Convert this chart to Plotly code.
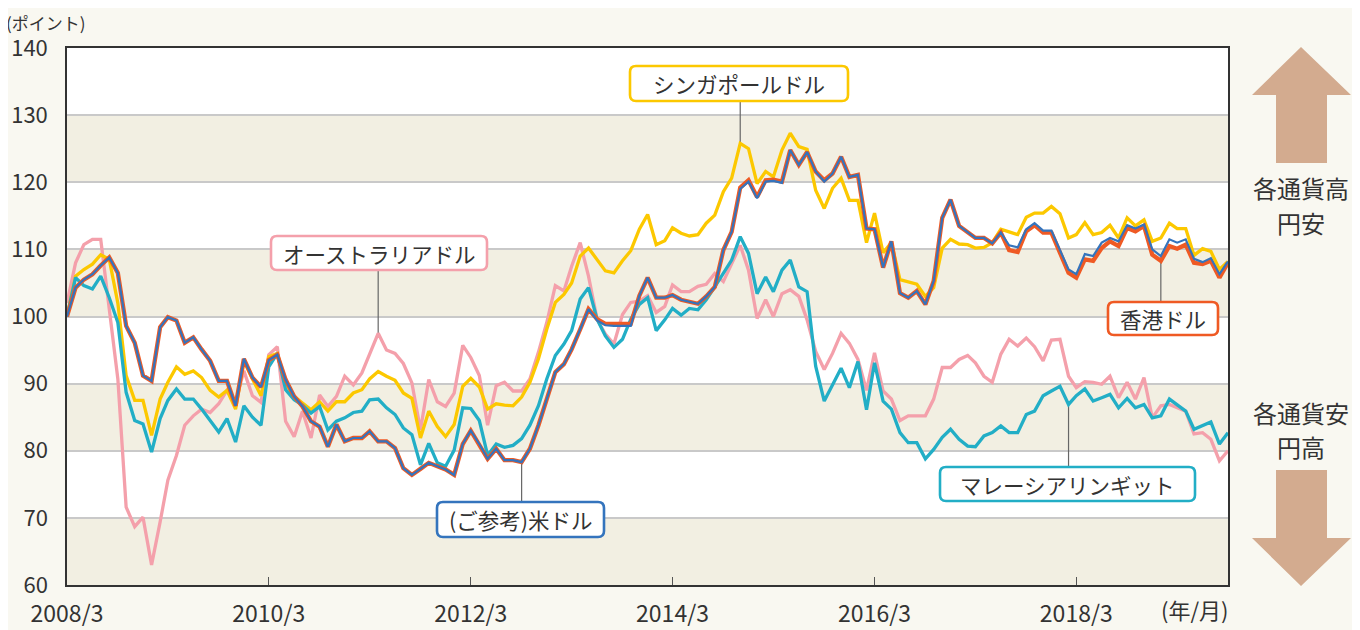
import plotly.graph_objects as go
import pandas as pd

# ---------------- data (monthly, index points) ----------------
months = pd.date_range("2008-03-01", periods=139, freq="MS")

hkd = [100, 104.3, 105.5, 106.3, 107.6, 108.8, 106.5, 98.6, 96.1, 91.2,
       90.4, 98.4, 99.9, 99.4, 96.1, 96.9, 95.1, 93.4, 90.4, 90.4,
       86.7, 93.7, 90.9, 89.5, 93.5, 94.3, 90.6, 88.1, 86.6, 84.4,
       83.6, 80.6, 83.9, 81.4, 81.9, 81.9, 82.9, 81.4, 81.4, 80.4,
       77.4, 76.4, 77.3, 78.2, 77.7, 77.2, 76.4, 81.0, 83.0, 81.0,
       78.8, 80.3, 78.6, 78.6, 78.3, 80.3, 83.8, 87.7, 91.7, 92.9,
       95.1, 98.1, 101.1, 99.6, 98.9, 98.9, 98.9, 98.9, 103.1, 105.8,
       102.8, 102.8, 103.2, 102.5, 102.2, 101.9, 103.0, 104.4, 109.9, 112.6,
       119.2, 120.3, 117.8, 120.3, 120.4, 120.1, 124.8, 122.6, 124.5, 121.6,
       120.3, 121.3, 123.8, 120.8, 121.1, 113.1, 113.0, 107.3, 111.2, 103.5,
       102.8, 103.8, 101.8, 105.3, 114.7, 117.4, 113.5, 112.5, 111.7, 111.7,
       110.9, 112.5, 109.9, 109.6, 112.7, 113.6, 112.5, 112.5, 109.5, 106.5,
       105.8, 108.5, 108.3, 110.2, 111.2, 110.5, 113.2, 112.7, 113.5, 109.2,
       108.3, 110.5, 110.1, 110.7, 108.0, 107.8, 108.3, 105.8, 108.0]

usd = [100, 104.3, 105.5, 106.3, 107.6, 108.8, 106.5, 98.6, 96.1, 91.2,
       90.4, 98.4, 99.9, 99.4, 96.1, 96.9, 95.1, 93.4, 90.4, 90.4,
       86.7, 93.7, 90.9, 89.5, 93.5, 94.3, 90.6, 88.1, 86.6, 84.4,
       83.6, 80.6, 83.9, 81.4, 81.9, 81.9, 82.9, 81.4, 81.4, 80.4,
       77.4, 76.4, 77.3, 78.2, 77.7, 77.2, 76.4, 81.0, 83.0, 81.0,
       78.8, 80.3, 78.6, 78.6, 78.3, 80.3, 83.8, 87.7, 91.7, 92.9,
       95.1, 98.1, 101.1, 99.4, 98.7, 98.6, 98.6, 98.6, 103.1, 105.8,
       102.8, 102.8, 103.2, 102.5, 102.2, 101.9, 103.0, 104.4, 109.9, 112.6,
       119.0, 120.1, 117.6, 120.1, 120.2, 119.9, 124.8, 122.6, 124.5, 121.6,
       120.1, 121.3, 123.8, 120.8, 121.1, 113.1, 113.0, 107.3, 111.2, 103.5,
       102.8, 103.8, 101.8, 105.3, 114.7, 117.4, 113.5, 112.5, 111.7, 111.7,
       110.9, 112.5, 110.6, 110.3, 113.0, 113.9, 112.8, 112.8, 110.0, 107.0,
       106.3, 109.3, 109.0, 111.0, 111.7, 111.2, 113.6, 113.1, 113.7, 110.0,
       109.0, 111.5, 111.0, 111.5, 108.6, 108.1, 108.7, 106.3, 108.2]

sgd = [100, 106.0, 107.0, 107.8, 109.2, 108.5, 102.0, 91.2, 87.5, 87.5,
       82.3, 87.7, 90.2, 92.5, 91.4, 91.9, 90.9, 89.0, 88.0, 89.0,
       86.2, 93.4, 90.7, 88.2, 94.0, 94.5, 90.0, 88.1, 87.1, 86.1,
       87.3, 85.9, 87.3, 87.3, 88.6, 89.1, 90.7, 91.8, 91.1, 90.5,
       88.6, 87.8, 81.9, 85.9, 83.6, 82.1, 83.9, 89.6, 90.8, 89.5,
       86.2, 87.0, 86.8, 86.7, 88.0, 90.2, 93.7, 98.1, 102.1, 103.3,
       105.0, 109.0, 110.2, 108.5, 106.8, 106.5, 108.3, 109.8, 113.0, 115.2,
       110.7, 111.3, 113.2, 112.4, 112.0, 112.2, 113.9, 115.1, 118.6, 120.6,
       125.8, 125.0, 119.8, 121.6, 120.8, 124.8, 127.3, 125.3, 124.9, 118.8,
       116.1, 119.1, 120.6, 117.3, 117.3, 111.0, 115.4, 109.5, 111.0, 105.5,
       105.2, 104.8, 103.0, 104.3, 110.2, 111.5, 110.8, 110.7, 110.2, 110.3,
       111.0, 113.0, 112.6, 112.2, 114.8, 115.4, 115.4, 116.4, 115.3, 111.7,
       112.2, 114.0, 112.2, 112.5, 113.6, 111.7, 114.7, 113.5, 114.4, 111.2,
       111.7, 113.9, 113.1, 113.1, 109.1, 110.1, 109.7, 107.0, 108.2]

myr = [100, 105.8, 104.6, 104.1, 106.0, 102.8, 99.1, 88.7, 84.5, 84.0,
       79.8, 84.8, 87.5, 89.2, 87.7, 87.7, 86.2, 84.5, 82.8, 84.8,
       81.3, 86.7, 85.0, 83.8, 92.5, 94.5, 89.1, 87.6, 86.8, 85.6,
       86.6, 83.1, 84.4, 84.9, 85.7, 85.9, 87.6, 87.7, 86.4, 85.4,
       83.4, 82.4, 77.9, 81.1, 78.2, 77.7, 80.1, 86.4, 86.3, 84.5,
       79.3, 81.0, 80.5, 80.8, 81.8, 83.8, 86.7, 90.7, 94.2, 95.9,
       97.9, 102.6, 104.3, 99.6, 97.1, 95.4, 96.6, 99.6, 101.8, 102.8,
       97.9, 99.5, 101.2, 100.2, 101.2, 101.0, 102.5, 104.4, 106.4, 108.4,
       111.9, 109.4, 103.4, 105.9, 103.7, 106.9, 108.4, 104.4, 103.7, 92.6,
       87.4, 89.9, 92.3, 89.4, 93.3, 86.1, 93.1, 87.4, 86.2, 82.7,
       81.2, 81.2, 78.8, 80.2, 82.0, 83.2, 81.7, 80.7, 80.6, 82.2,
       82.7, 83.7, 82.7, 82.7, 85.4, 85.9, 88.2, 88.9, 89.6, 86.9,
       88.2, 89.2, 87.4, 87.9, 88.4, 86.4, 87.8, 86.4, 86.9, 84.9,
       85.2, 87.7, 86.9, 85.9, 83.2, 83.7, 84.3, 81.0, 82.7]

aud = [102, 108.0, 110.7, 111.5, 111.5, 101.1, 90.7, 71.6, 68.7, 70.1,
       63.0, 69.4, 75.6, 79.3, 83.8, 85.2, 86.2, 85.7, 87.0, 89.0,
       87.2, 91.9, 88.2, 87.2, 94.3, 95.5, 84.4, 82.1, 85.9, 81.9,
       88.3, 86.6, 88.1, 91.1, 89.8, 91.6, 94.3, 97.5, 95.0, 94.5,
       93.0, 90.1, 83.1, 90.6, 87.3, 86.6, 88.6, 95.7, 93.9, 91.2,
       83.8, 89.7, 90.2, 88.9, 88.9, 90.7, 94.7, 99.1, 104.6, 103.8,
       107.5, 111.0, 106.0, 99.6, 97.4, 95.9, 100.3, 102.1, 102.3, 103.1,
       100.6, 101.5, 104.7, 103.7, 103.7, 104.5, 104.8, 106.4, 105.2, 107.9,
       110.6, 106.9, 99.7, 102.5, 100.0, 103.4, 104.0, 103.0, 99.5, 94.8,
       92.1, 94.5, 97.5, 96.0, 93.6, 89.0, 94.6, 88.9, 87.7, 84.5,
       85.2, 85.2, 85.2, 87.7, 92.4, 92.4, 93.6, 94.2, 93.1, 91.1,
       90.2, 94.4, 96.6, 95.6, 96.8, 95.5, 93.4, 96.5, 96.6, 91.1,
       89.4, 90.3, 90.2, 89.9, 91.1, 87.9, 90.2, 87.7, 90.9, 84.9,
       86.7, 86.9, 86.4, 85.9, 82.5, 82.7, 81.7, 78.5, 80.0]

tick_dates = ["2008-03-01", "2010-03-01", "2012-03-01", "2014-03-01", "2016-03-01", "2018-03-01"]
tick_text = ["2008/3", "2010/3", "2012/3", "2014/3", "2016/3", "2018/3"]

# ---------------- styling ----------------
FONT = "Noto Sans CJK JP"
TXT = "#333333"
C_HKD = "#ef5a24"
C_USD = "#3474bd"
C_SGD = "#fcc800"
C_MYR = "#22aec6"
C_AUD = "#f4a0ab"
BAND = "#f2efe2"
ARROW = "#d3ab8f"

# the page body adds an 8px margin: lay out in page pixels, shift into figure pixels
OFF = 8
W, H = 1360 - OFF, 630 - OFF
L, R, T, B = 67 - OFF, 1228 - OFF, 48 - OFF, 585 - OFF


def px(x):
    return (x - OFF - L) / (R - L)


def py(y):
    return (B - (y - OFF)) / (B - T)


def rounded_rect(x0, y0, x1, y1, r):
    rx = r / (R - L)
    ry = r / (B - T)
    a, b, c, d = px(x0), px(x1), py(y0), py(y1)
    return (f"M {a+rx},{c} L {b-rx},{c} Q {b},{c} {b},{c-ry} "
            f"L {b},{d+ry} Q {b},{d} {b-rx},{d} L {a+rx},{d} "
            f"Q {a},{d} {a},{d+ry} L {a},{c-ry} Q {a},{c} {a+rx},{c} Z")


def val_of_py(y):
    return 140 - ((y - OFF) - T) / ((B - T) / 80)


fig = go.Figure()

series = [
    ("オーストラリアドル", aud, C_AUD, 3.3),
    ("シンガポールドル", sgd, C_SGD, 3.3),
    ("マレーシアリンギット", myr, C_MYR, 3.3),
    ("香港ドル", hkd, C_HKD, 4.3),
    ("(ご参考)米ドル", usd, C_USD, 2.2),
]
for name, vals, col, w in series:
    fig.add_trace(go.Scatter(x=months, y=vals, mode="lines", name=name,
                             line=dict(color=col, width=w), showlegend=False,
                             hoverinfo="skip"))

shapes = []
for lo in (60, 80, 100, 120):
    shapes.append(dict(type="rect", xref="paper", yref="y", x0=0, x1=1, y0=lo, y1=lo + 10,
                       fillcolor=BAND, line=dict(width=0), layer="below"))

# label boxes (page pixels)
boxes = [
    ("シンガポールドル", C_SGD, (630, 66, 848, 101), 80, sgd),
    ("オーストラリアドル", C_AUD, (271, 236, 487, 270), 37, aud),
    ("(ご参考)米ドル", C_USD, (437, 502, 604, 537), 54, usd),
    ("香港ドル", C_HKD, (1108, 302, 1218, 335), 130, hkd),
    ("マレーシアリンギット", C_MYR, (940, 467, 1195, 501), 119, myr),
]
annotations = []
for text, col, (x0, y0, x1, y1), idx, vals in boxes:
    edge = y0 if val_of_py(y0) < vals[idx] else y1
    shapes.append(dict(type="line", xref="x", yref="y",
                       x0=months[idx], x1=months[idx],
                       y0=val_of_py(edge), y1=vals[idx],
                       line=dict(color="#666666", width=1.2), layer="between"))
    shapes.append(dict(type="path", xref="paper", yref="paper",
                       path=rounded_rect(x0, y0, x1, y1, 6),
                       fillcolor="white", line=dict(color=col, width=2.6), layer="above"))
    annotations.append(dict(xref="paper", yref="paper", x=px((x0 + x1) / 2), y=py((y0 + y1) / 2),
                            text=text, showarrow=False, xanchor="center", yanchor="middle",
                            font=dict(family=FONT, size=21.5, color=TXT)))

# right side arrows (page pixels)
up = [(1301, 47), (1351, 95), (1327, 95), (1327, 163), (1276, 163), (1276, 95), (1252, 95)]
down = [(1276, 470), (1327, 470), (1327, 538), (1351, 538), (1301, 586), (1252, 538), (1276, 538)]
for poly in (up, down):
    p = "M " + " L ".join(f"{px(a)},{py(b)}" for a, b in poly) + " Z"
    shapes.append(dict(type="path", xref="paper", yref="paper", path=p,
                       fillcolor=ARROW, line=dict(width=0), layer="above"))

for text, y in (("各通貨高", 188), ("円安", 222), ("各通貨安", 412), ("円高", 446)):
    annotations.append(dict(xref="paper", yref="paper", x=px(1301), y=py(y), text=text,
                            showarrow=False, xanchor="center", yanchor="middle",
                            font=dict(family=FONT, size=24, color=TXT)))

annotations.append(dict(xref="paper", yref="paper", x=px(4), y=py(8), text="(ポイント)",
                        showarrow=False, xanchor="left", yanchor="top",
                        font=dict(family=FONT, size=17, color=TXT)))
annotations.append(dict(xref="paper", yref="paper", x=px(1195), y=py(609), text="(年/月)",
                        showarrow=False, xanchor="center", yanchor="middle",
                        font=dict(family=FONT, size=22, color=TXT)))

fig.update_layout(
    width=W, height=H,
    margin=dict(l=L, r=W - R, t=T, b=H - B, pad=0, autoexpand=False),
    paper_bgcolor="#f9f8f1", plot_bgcolor="white",
    font=dict(family=FONT, color=TXT),
    shapes=shapes, annotations=annotations,
    xaxis=dict(type="date", range=[months[0], months[-1]], automargin=False,
               tickvals=tick_dates, ticktext=tick_text,
               ticks="inside", ticklen=8, tickcolor="#555555", tickwidth=1,
               showgrid=False, zeroline=False,
               showline=True, linecolor="#333333", linewidth=1.5, mirror=True,
               ticklabelstandoff=8,
               tickfont=dict(family=FONT, size=23, color=TXT)),
    yaxis=dict(range=[60, 140], tick0=60, dtick=10, automargin=False,
               showgrid=True, gridcolor="#c9c9c9", gridwidth=1.5,
               zeroline=False, ticks="",
               showline=True, linecolor="#333333", linewidth=1.5, mirror=True,
               ticklabelstandoff=13,
               tickfont=dict(family=FONT, size=22, color=TXT)),
)

fig.write_html("out.html")
